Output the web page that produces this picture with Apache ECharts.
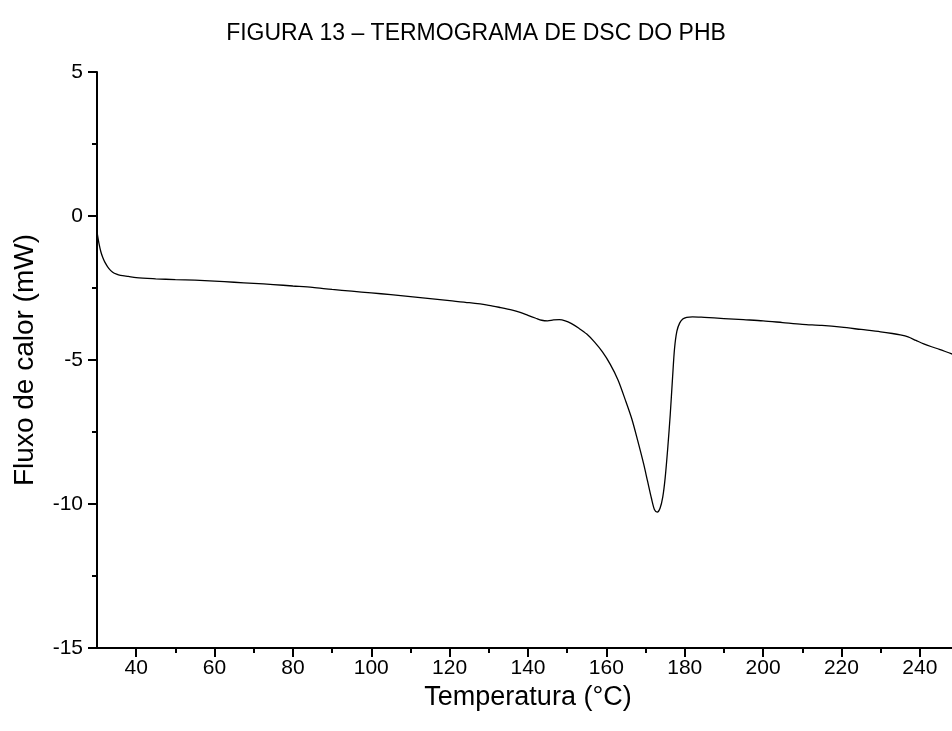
<!DOCTYPE html>
<html>
<head>
<meta charset="utf-8">
<script src="https://cdn.jsdelivr.net/npm/echarts@6/dist/echarts.min.js"></script>
<style>
html,body{margin:0;padding:0;background:#fff;}
#chart{width:952px;height:731px;}
</style>
</head>
<body>
<div id="chart"></div>
<script>
const temperature = [30, 30.5, 31, 31.5, 32, 33, 34, 35, 36, 38, 40, 45, 50, 55, 60, 65, 70, 75, 80, 85, 90, 95, 100, 105, 110, 115, 120, 125, 130, 133, 136, 138, 140, 142, 143.5, 145, 146.5, 148, 149.5, 151, 153, 155, 157, 159, 161, 163, 165, 166.5, 168, 169.5, 170.5, 171.5, 172.3, 173, 173.7, 174.4, 175, 175.7, 176.3, 176.9, 177.4, 178, 178.7, 179.5, 180.5, 182, 185, 190, 195, 200, 205, 210, 215, 220, 225, 230, 233, 235, 237, 239, 241, 243, 245, 248, 250];
const heatFlow = [-0.55, -0.95, -1.25, -1.45, -1.6, -1.82, -1.95, -2.02, -2.06, -2.1, -2.14, -2.18, -2.21, -2.23, -2.26, -2.3, -2.34, -2.38, -2.43, -2.48, -2.55, -2.61, -2.67, -2.73, -2.8, -2.87, -2.94, -3.01, -3.1, -3.18, -3.27, -3.35, -3.45, -3.55, -3.62, -3.64, -3.61, -3.6, -3.64, -3.73, -3.9, -4.1, -4.38, -4.72, -5.15, -5.7, -6.45, -7.05, -7.8, -8.6, -9.2, -9.8, -10.2, -10.28, -10.15, -9.75, -9.1, -8.0, -6.9, -5.6, -4.6, -4.0, -3.72, -3.58, -3.52, -3.5, -3.52, -3.56, -3.6, -3.64, -3.7, -3.76, -3.8, -3.86, -3.94, -4.02, -4.08, -4.13, -4.2, -4.32, -4.44, -4.54, -4.63, -4.78, -4.87];
const xMajorTicks = [40, 60, 80, 100, 120, 140, 160, 180, 200, 220, 240];
const xMinorTicks = [50, 70, 90, 110, 130, 150, 170, 190, 210, 230, 250];
const titleText = 'FIGURA 13 – TERMOGRAMA DE DSC DO PHB';
const xName = 'Temperatura (°C)';
const yName = 'Fluxo de calor (mW)';

const FONT = '"Liberation Sans", Arial, sans-serif';
const chart = echarts.init(document.getElementById('chart'), null, {renderer: 'canvas'});
const pts = temperature.map((t, i) => [t, heatFlow[i]]);
chart.setOption({
  animation: false,
  backgroundColor: '#fff',
  title: {
    text: titleText, left: 'center', top: 17,
    textStyle: {fontFamily: FONT, fontSize: 23, fontWeight: 'normal', color: '#000'}
  },
  grid: {left: 97, width: 862, top: 72, height: 576, containLabel: false, outerBoundsMode: 'none'},
  xAxis: [{
    type: 'value', min: 30, max: 250,
    name: xName, nameLocation: 'middle', nameGap: 27,
    nameTextStyle: {fontFamily: FONT, fontSize: 27, color: '#000'},
    axisLine: {show: true, onZero: false, lineStyle: {color: '#000', width: 2}},
    axisTick: {show: true, length: 9, lineStyle: {color: '#000', width: 2}, customValues: xMajorTicks},
    axisLabel: {show: true, margin: 10, fontFamily: FONT, fontSize: 21, color: '#000', customValues: xMajorTicks},
    splitLine: {show: false}
  }, {
    type: 'value', min: 30, max: 250, position: 'bottom',
    axisLine: {show: false, onZero: false},
    axisTick: {show: true, length: 5, lineStyle: {color: '#000', width: 2}, customValues: xMinorTicks},
    axisLabel: {show: false},
    splitLine: {show: false}
  }],
  yAxis: {
    type: 'value', min: -15, max: 5, interval: 5,
    name: yName, nameLocation: 'middle', nameGap: 58, nameRotate: 90,
    nameTextStyle: {fontFamily: FONT, fontSize: 28, color: '#000'},
    axisLine: {show: true, onZero: false, lineStyle: {color: '#000', width: 2}},
    axisTick: {show: true, length: 9, lineStyle: {color: '#000', width: 2}},
    minorTick: {show: true, splitNumber: 2, length: 5, lineStyle: {color: '#000', width: 2}},
    axisLabel: {show: true, margin: 14, fontFamily: FONT, fontSize: 21, color: '#000'},
    splitLine: {show: false}, minorSplitLine: {show: false}
  },
  series: [{
    type: 'line', data: pts, xAxisIndex: 0, yAxisIndex: 0,
    showSymbol: false, smooth: 0.3, clip: true,
    lineStyle: {color: '#000', width: 1.3}
  }]
});
</script>
</body>
</html>
